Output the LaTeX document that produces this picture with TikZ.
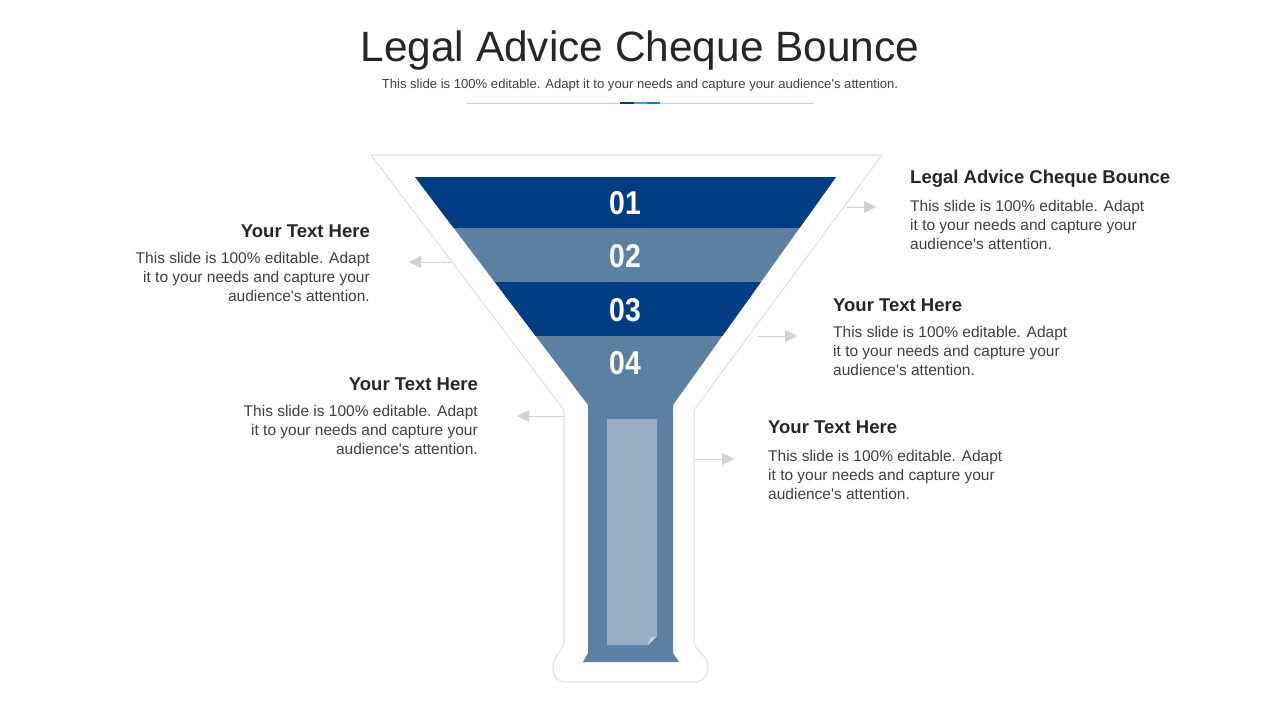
\documentclass[tikz,border=0pt]{standalone}
\usepackage{fontspec}
\setmainfont{Liberation Sans}[Ligatures=TeXOff]
\usepackage{xcolor}
\usepackage{graphicx}
\usetikzlibrary{positioning, arrows.meta}
\definecolor{navyband}{HTML}{023C83}
\definecolor{steelband}{HTML}{5B80A2}
\definecolor{paleband}{HTML}{97AEC4}
\definecolor{foldtint}{HTML}{C3D1DE}
\definecolor{rimgray}{HTML}{E2E2E2}
\definecolor{arrowgray}{HTML}{D2D2D2}
\definecolor{inkdark}{HTML}{262626}
\definecolor{inkbody}{HTML}{404040}
\tikzset{
  every node/.append style={inner sep=0pt},
  heading/.style={font=\fontsize{18.5}{22}\selectfont\bfseries, text=inkdark},
  blurb/.style={font=\fontsize{15.5}{19}\selectfont, text=inkbody},
  pointer/.style={draw=arrowgray, line width=1pt, -{Triangle[length=12pt,width=12pt]}},
  stagenum/.style={font=\fontsize{33}{36}\selectfont\bfseries, text=white}
}

\begin{document}
\begin{tikzpicture}[x=1pt, y=-1pt]
    \useasboundingbox (0,0) rectangle (1280,720);
    \fill[white] (0,0) rectangle (1280,720);

    % title block
    \node[font=\fontsize{42.4}{48}\selectfont, text=inkdark, anchor=base] (title) at (640,61) {Legal Advice Cheque Bounce};
    \node[font=\fontsize{13.1}{15}\selectfont, text=inkbody, anchor=base] (subtitle) at (640,88) {This slide is 100\% editable. Adapt it to your needs and capture your audience's attention.};
    \draw[rimgray!80!gray, line width=0.8pt] (467,103) -- (814,103);
    \draw[line width=2.5pt, navyband] (620,103) -- (634,103);
    \draw[line width=2.5pt, steelband!70!cyan] (634,103) -- (647,103);
    \draw[line width=2.5pt, cyan!60!blue] (647,103) -- (660,103);

    % outer rim of the funnel
    \draw[rimgray, line width=1.2pt, line join=round]
        (371,155) -- (882,155) -- (694,410) -- (694,640)
        .. controls (694,652) and (708,655) .. (708,666)
        .. controls (708,676) and (703,682) .. (694,682) -- (566,682)
        .. controls (557,682) and (553,676) .. (553,666)
        .. controls (553,655) and (564,652) .. (564,640) -- (564,410) -- cycle;

    % coloured funnel
    \begin{scope}
        \clip (415,177) -- (836,177) -- (673,405) -- (673,653) -- (679,662)
              -- (583,662) -- (588,653) -- (588,405) -- cycle;
        \fill[steelband] (400,170) rectangle (850,670);
        \foreach \ya/\yb in {177/228, 282/336}
            \fill[navyband] (400,\ya) rectangle (850,\yb);
    \end{scope}
    \fill[paleband] (607,419) -- (657,419) -- (657,636) -- (648,645) -- (607,645) -- cycle;
    \fill[foldtint] (648,645) -- (657,636) -- (650,638) -- cycle;

    \foreach \n/\yy in {01/203, 02/256, 03/310, 04/363}
        \node[stagenum] (num\n) at (625,\yy) {\scalebox{0.86}[1]{\n}};

    % text blocks
    \node[heading, anchor=base west] (headA) at (910,183) {Legal Advice Cheque Bounce};
    \node[blurb, align=left, below=17pt of headA.base west, anchor=north west] (bodyA)
        {This slide is 100\% editable. Adapt\\it to your needs and capture your\\audience's attention.};

    \node[heading, anchor=base east] (headB) at (370,237) {Your Text Here};
    \node[blurb, align=right, below=15pt of headB.base east, anchor=north east] (bodyB)
        {This slide is 100\% editable. Adapt\\it to your needs and capture your\\audience's attention.};

    \node[heading, anchor=base west] (headC) at (833,311) {Your Text Here};
    \node[blurb, align=left, below=15pt of headC.base west, anchor=north west] (bodyC)
        {This slide is 100\% editable. Adapt\\it to your needs and capture your\\audience's attention.};

    \node[heading, anchor=base east] (headD) at (478,390) {Your Text Here};
    \node[blurb, align=right, below=15pt of headD.base east, anchor=north east] (bodyD)
        {This slide is 100\% editable. Adapt\\it to your needs and capture your\\audience's attention.};

    \node[heading, anchor=base west] (headE) at (768,433) {Your Text Here};
    \node[blurb, align=left, below=17pt of headE.base west, anchor=north west] (bodyE)
        {This slide is 100\% editable. Adapt\\it to your needs and capture your\\audience's attention.};

    % pointers
    \coordinate (tailA) at (847,207);  \coordinate (tipA) at (876,207);
    \coordinate (tailB) at (451,262);  \coordinate (tipB) at (409,262);
    \coordinate (tailC) at (757,336);  \coordinate (tipC) at (797,336);
    \coordinate (tailD) at (565,416);  \coordinate (tipD) at (517,416);
    \coordinate (tailE) at (695,459);  \coordinate (tipE) at (734,459);
    \foreach \k in {A,B,C,D,E}
        \draw[pointer] (tail\k) -- (tip\k);
\end{tikzpicture}
\end{document}
